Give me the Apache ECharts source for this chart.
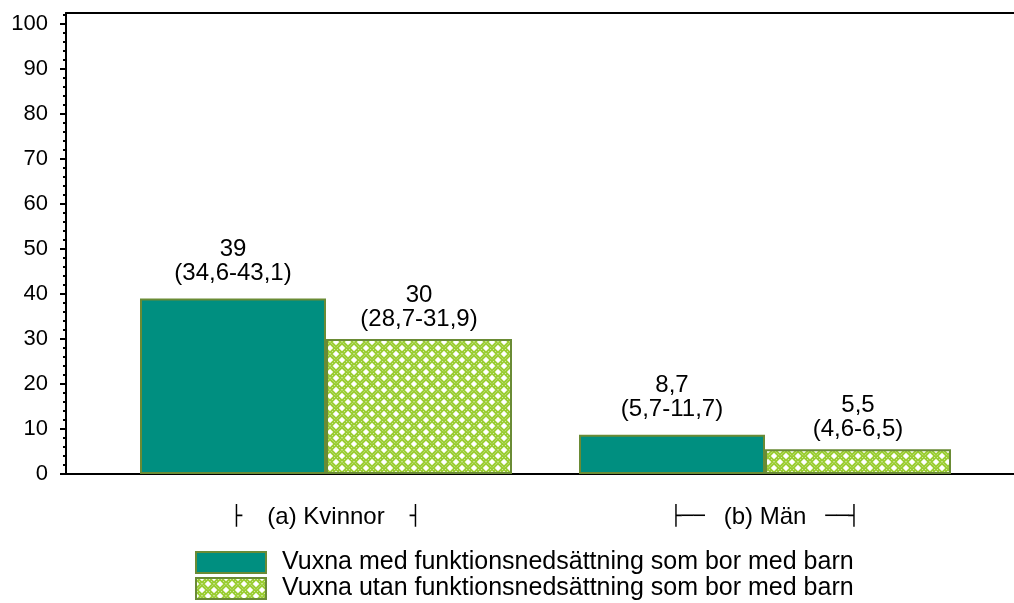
<!DOCTYPE html>
<html>
<head>
<meta charset="utf-8">
<script src="https://cdn.jsdelivr.net/npm/echarts@6/dist/echarts.min.js"></script>
<style>
html, body { margin: 0; padding: 0; background: #fff; }
#main { width: 1014px; height: 603px; }
</style>
</head>
<body>
<div id="main"></div>
<script>
// data
var categories = ['(a) Kvinnor', '(b) Män'];
var seriesNames = ['Vuxna med funktionsnedsättning som bor med barn', 'Vuxna utan funktionsnedsättning som bor med barn'];
var withValues = [39, 8.7];
var withCi = ['34,6-43,1', '5,7-11,7'];
var withoutValues = [30, 5.5];
var withoutCi = ['28,7-31,9', '4,6-6,5'];
var yTicks = [0, 10, 20, 30, 40, 50, 60, 70, 80, 90, 100];

var fontFam = 'Liberation Sans, Arial, sans-serif';
var tealColor = '#008f80';
var borderColor = '#6a8b35';
var hatchColor = '#9acd32';

// crosshatch pattern for second series
function makeHatch() {
    var s = 12;
    var c = document.createElement('canvas');
    c.width = s;
    c.height = s;
    var ctx = c.getContext('2d');
    ctx.fillStyle = '#ffffff';
    ctx.fillRect(0, 0, s, s);
    ctx.strokeStyle = hatchColor;
    ctx.lineWidth = 4;
    ctx.beginPath();
    ctx.moveTo(-3, -3); ctx.lineTo(s + 3, s + 3);
    ctx.moveTo(s + 3, -3); ctx.lineTo(-3, s + 3);
    ctx.stroke();
    ctx.strokeStyle = '#ffffff';
    ctx.lineWidth = 0.8;
    ctx.setLineDash([1, 2]);
    ctx.beginPath();
    ctx.moveTo(-3, -3); ctx.lineTo(s + 3, s + 3);
    ctx.moveTo(s + 3, -3); ctx.lineTo(-3, s + 3);
    ctx.stroke();
    return c;
}
var hatchFill = { image: makeHatch(), repeat: 'repeat' };

function fmtNum(v) {
    return String(v).replace('.', ',');
}

function catLabel(value, idx) {
    if (idx === 0) {
        return '{b|├}{spk| }{t|' + value + '}{spk| }{b|┤}';
    }
    return '{b|├──}{sp| }{t|' + value + '}{sp| }{b|──┤}';
}

var yMax = 102.5;

var option = {
    animation: false,
    backgroundColor: '#ffffff',
    textStyle: { fontFamily: fontFam },
    grid: [
        { left: 106.5, width: 878, top: 13, height: 461 },
        { left: 66, right: 0, top: 13, height: 461 }
    ],
    legend: {
        orient: 'vertical',
        left: 195,
        top: 550,
        height: 60,
        padding: 0,
        icon: 'rect',
        itemWidth: 70,
        itemHeight: 21,
        itemGap: 1,
        textStyle: { fontSize: 25, lineHeight: 20, color: '#000', fontFamily: fontFam, padding: [0, 0, 0, 11] },
        data: seriesNames
    },
    xAxis: [
        {
            type: 'category',
            gridIndex: 0,
            data: categories,
            axisLine: { show: false },
            axisTick: { show: false },
            axisLabel: {
                margin: 31,
                color: '#000',
                formatter: catLabel,
                rich: {
                    b: { fontFamily: 'DejaVu Sans', fontSize: 19, color: '#000' },
                    sp: { width: 19, fontSize: 18 },
                    spk: { width: 25, fontSize: 18 },
                    t: { fontFamily: fontFam, fontSize: 24, color: '#000' }
                }
            }
        },
        {
            type: 'value', gridIndex: 1, position: 'bottom', min: 0, max: 1,
            axisLine: { show: true, onZero: false, lineStyle: { color: '#000', width: 2 } },
            axisTick: { show: false }, axisLabel: { show: false }, splitLine: { show: false }
        },
        {
            type: 'value', gridIndex: 1, position: 'top', min: 0, max: 1,
            axisLine: { show: true, onZero: false, lineStyle: { color: '#000', width: 2 } },
            axisTick: { show: false }, axisLabel: { show: false }, splitLine: { show: false }
        }
    ],
    yAxis: [
        {
            type: 'value', gridIndex: 0, min: 0, max: yMax, show: false, splitLine: { show: false }
        },
        {
            type: 'value', gridIndex: 1, min: 0, max: yMax, interval: 10,
            axisLine: { show: true, lineStyle: { color: '#000', width: 2 } },
            axisTick: { show: true, length: 6, lineStyle: { color: '#000', width: 2 }, customValues: yTicks },
            minorTick: { show: true, splitNumber: 5, length: 3, lineStyle: { color: '#000', width: 2 } },
            axisLabel: { color: '#000', fontSize: 22, margin: 18, customValues: yTicks },
            splitLine: { show: false }
        }
    ],
    series: [
        {
            name: seriesNames[0],
            type: 'bar',
            xAxisIndex: 0,
            yAxisIndex: 0,
            barWidth: 186,
            barGap: '0%',
            data: withValues,
            itemStyle: { color: tealColor, borderColor: borderColor, borderWidth: 2 },
            label: {
                show: true,
                position: 'top',
                distance: 13,
                color: '#000',
                fontSize: 24,
                lineHeight: 24,
                formatter: function (p) {
                    return fmtNum(p.value) + '\n(' + withCi[p.dataIndex] + ')';
                }
            }
        },
        {
            name: seriesNames[1],
            type: 'bar',
            xAxisIndex: 0,
            yAxisIndex: 0,
            barWidth: 186,
            barGap: '0%',
            data: withoutValues,
            itemStyle: { color: hatchFill, borderColor: borderColor, borderWidth: 2 },
            label: {
                show: true,
                position: 'top',
                distance: 8,
                color: '#000',
                fontSize: 24,
                lineHeight: 24,
                formatter: function (p) {
                    return fmtNum(p.value) + '\n(' + withoutCi[p.dataIndex] + ')';
                }
            }
        }
    ]
};

var chart = echarts.init(document.getElementById('main'));
chart.setOption(option);
</script>
</body>
</html>
